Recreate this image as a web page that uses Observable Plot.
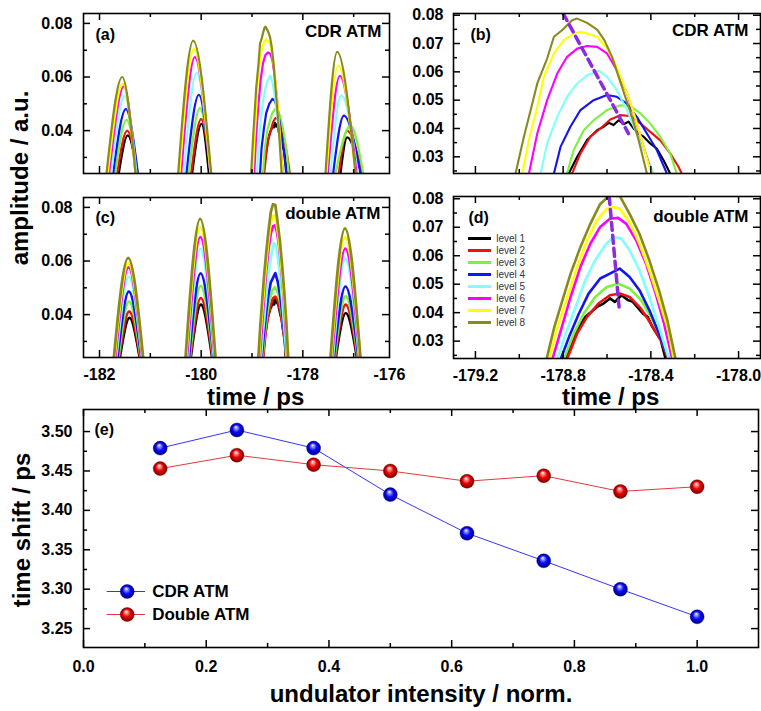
<!DOCTYPE html>
<html><head><meta charset="utf-8">
<script src="https://cdn.jsdelivr.net/npm/d3@7"></script>
<script src="https://cdn.jsdelivr.net/npm/@observablehq/plot@0.6"></script>
<style>
body{margin:0;background:#fff;}
#root{position:relative;width:761px;height:711px;overflow:hidden;background:#fff;}
</style></head><body><div id="root"></div>
<script>
// ---------------- data ----------------
const levels = ["level 1","level 2","level 3","level 4","level 5","level 6","level 7","level 8"];
const levelColors = ["#000000","#ee1111","#7cf23c","#1414ee","#80ffff","#ff00ff","#ffff00","#8a8a1c"];

// (b) CDR ATM, third pulse in detail: [time / ps, amplitude / a.u.]
const cdrL1 = [[-178.774,0.0241],[-178.736,0.0300],[-178.691,0.0359],[-178.645,0.0394],[-178.615,0.0406],[-178.592,0.0420],[-178.570,0.0412],[-178.547,0.0429],[-178.524,0.0415],[-178.502,0.0424],[-178.479,0.0400],[-178.456,0.0382],[-178.433,0.0371],[-178.403,0.0347],[-178.373,0.0329],[-178.342,0.0288],[-178.312,0.0241]];
const cdrL2 = [[-178.759,0.0241],[-178.721,0.0312],[-178.676,0.0371],[-178.630,0.0400],[-178.585,0.0432],[-178.539,0.0447],[-178.494,0.0444],[-178.448,0.0418],[-178.403,0.0388],[-178.358,0.0359],[-178.312,0.0312],[-178.274,0.0265],[-178.259,0.0241]];
const cdrL3 = [[-178.782,0.0241],[-178.752,0.0324],[-178.706,0.0394],[-178.661,0.0429],[-178.600,0.0465],[-178.539,0.0482],[-178.494,0.0479],[-178.448,0.0453],[-178.403,0.0418],[-178.358,0.0371],[-178.312,0.0312],[-178.282,0.0241]];
const cdrL4 = [[-178.842,0.0241],[-178.812,0.0335],[-178.767,0.0406],[-178.721,0.0465],[-178.661,0.0500],[-178.600,0.0518],[-178.555,0.0512],[-178.509,0.0488],[-178.464,0.0441],[-178.418,0.0382],[-178.373,0.0324],[-178.327,0.0241]];
const cdrL5 = [[-178.903,0.0241],[-178.873,0.0347],[-178.827,0.0441],[-178.782,0.0512],[-178.736,0.0559],[-178.691,0.0588],[-178.638,0.0604],[-178.600,0.0582],[-178.555,0.0535],[-178.509,0.0465],[-178.464,0.0382],[-178.418,0.0300],[-178.388,0.0241]];
const cdrL6 = [[-178.956,0.0241],[-178.918,0.0382],[-178.873,0.0500],[-178.827,0.0594],[-178.782,0.0653],[-178.736,0.0682],[-178.691,0.0691],[-178.645,0.0688],[-178.600,0.0665],[-178.555,0.0606],[-178.509,0.0524],[-178.479,0.0453],[-178.433,0.0335],[-178.395,0.0241]];
const cdrL7 = [[-178.986,0.0241],[-178.956,0.0359],[-178.918,0.0476],[-178.888,0.0582],[-178.842,0.0665],[-178.797,0.0712],[-178.752,0.0735],[-178.721,0.0741],[-178.691,0.0735],[-178.645,0.0724],[-178.600,0.0682],[-178.562,0.0629],[-178.532,0.0571],[-178.497,0.0500],[-178.464,0.0418],[-178.433,0.0335],[-178.411,0.0276],[-178.395,0.0241]];
const cdrL8 = [[-179.017,0.0241],[-178.979,0.0371],[-178.948,0.0465],[-178.918,0.0559],[-178.873,0.0647],[-178.842,0.0724],[-178.805,0.0747],[-178.759,0.0782],[-178.736,0.0788],[-178.691,0.0773],[-178.645,0.0749],[-178.612,0.0712],[-178.577,0.0653],[-178.547,0.0582],[-178.517,0.0512],[-178.486,0.0441],[-178.456,0.0359],[-178.433,0.0288],[-178.418,0.0241]];
const cdrShiftLine = [[-178.800,0.0806],[-178.502,0.0382]];

// (d) double ATM, third pulse in detail
const dblL1 = [[-178.788,0.0239],[-178.743,0.0327],[-178.699,0.0385],[-178.646,0.0420],[-178.616,0.0432],[-178.587,0.0450],[-178.564,0.0438],[-178.534,0.0461],[-178.504,0.0444],[-178.482,0.0438],[-178.437,0.0397],[-178.415,0.0385],[-178.393,0.0350],[-178.355,0.0304],[-178.333,0.0239]];
const dblL2 = [[-178.781,0.0239],[-178.736,0.0327],[-178.691,0.0385],[-178.639,0.0432],[-178.587,0.0461],[-178.542,0.0467],[-178.497,0.0455],[-178.445,0.0414],[-178.400,0.0362],[-178.355,0.0304],[-178.321,0.0239]];
const dblL3 = [[-178.796,0.0239],[-178.751,0.0327],[-178.706,0.0397],[-178.654,0.0455],[-178.601,0.0490],[-178.549,0.0502],[-178.497,0.0485],[-178.445,0.0444],[-178.400,0.0385],[-178.355,0.0315],[-178.318,0.0239]];
const dblL4 = [[-178.810,0.0239],[-178.773,0.0315],[-178.728,0.0397],[-178.684,0.0467],[-178.631,0.0520],[-178.587,0.0537],[-178.542,0.0555],[-178.497,0.0525],[-178.452,0.0479],[-178.407,0.0409],[-178.363,0.0327],[-178.318,0.0239]];
const dblL5 = [[-178.825,0.0239],[-178.788,0.0327],[-178.743,0.0420],[-178.699,0.0514],[-178.654,0.0584],[-178.609,0.0636],[-178.572,0.0666],[-178.534,0.0660],[-178.497,0.0619],[-178.452,0.0549],[-178.407,0.0455],[-178.363,0.0350],[-178.318,0.0239]];
const dblL6 = [[-178.848,0.0239],[-178.810,0.0339],[-178.766,0.0455],[-178.721,0.0561],[-178.676,0.0642],[-178.631,0.0701],[-178.587,0.0730],[-178.549,0.0733],[-178.512,0.0712],[-178.467,0.0654],[-178.422,0.0572],[-178.378,0.0467],[-178.340,0.0362],[-178.303,0.0239]];
const dblL7 = [[-178.863,0.0239],[-178.825,0.0350],[-178.781,0.0455],[-178.736,0.0561],[-178.691,0.0654],[-178.646,0.0724],[-178.601,0.0765],[-178.572,0.0771],[-178.542,0.0765],[-178.497,0.0718],[-178.452,0.0642],[-178.407,0.0549],[-178.363,0.0444],[-178.325,0.0350],[-178.296,0.0239]];
const dblL8 = [[-178.875,0.0239],[-178.840,0.0350],[-178.803,0.0444],[-178.766,0.0537],[-178.721,0.0631],[-178.676,0.0712],[-178.631,0.0782],[-178.587,0.0812],[-178.542,0.0810],[-178.497,0.0747],[-178.452,0.0677],[-178.407,0.0584],[-178.363,0.0479],[-178.325,0.0374],[-178.288,0.0239]];
const dblShiftLine = [[-178.590,0.0808],[-178.545,0.0420]];

// (a) CDR ATM, pulses 1, 2 and 4 (pulse 3 = panel b): per level 1..8
const cdrPeakTime = [
  [-181.443,-181.456,-181.469,-181.482,-181.508,-181.521,-181.541,-181.554],
  [-179.993,-180.000,-180.026,-180.046,-180.092,-180.125,-180.144,-180.157],
  [-177.128,-177.128,-177.062,-177.193,-177.246,-177.272,-177.305,-177.325]];
const cdrPeakAmp = [
  [0.0382,0.0400,0.0440,0.0480,0.0530,0.0565,0.0575,0.0600],
  [0.0425,0.0443,0.0484,0.0533,0.0616,0.0674,0.0705,0.0736],
  [0.0375,0.0400,0.0419,0.0456,0.0532,0.0604,0.0643,0.0694]];
const cdrFootLeft = [
  [-181.620,-181.652,-181.692,-181.731,-181.770,-181.810,-181.836,-181.862],
  [-180.177,-180.197,-180.243,-180.289,-180.341,-180.393,-180.426,-180.452],
  [-177.259,-177.292,-177.357,-177.403,-177.456,-177.508,-177.534,-177.554]];
const cdrFootRight = [
  [-181.259,-181.246,-181.246,-181.246,-181.272,-181.292,-181.292,-181.292],
  [-179.849,-179.816,-179.803,-179.816,-179.816,-179.816,-179.816,-179.803],
  [-176.852,-176.833,-176.813,-176.866,-176.918,-176.944,-176.964,-176.964]];

// (c) double ATM, pulses 1, 2 and 4 (pulse 3 = panel d)
const dblPeakTime = [
  [-181.410,-181.416,-181.420,-181.423,-181.426,-181.430,-181.433,-181.436],
  [-180.005,-180.008,-180.010,-180.012,-180.014,-180.016,-180.018,-180.020],
  [-177.155,-177.157,-177.159,-177.161,-177.163,-177.165,-177.167,-177.170]];
const dblPeakAmp = [
  [0.0388,0.0412,0.0449,0.0486,0.0542,0.0576,0.0591,0.0612],
  [0.0437,0.0462,0.0507,0.0554,0.0646,0.0689,0.0726,0.0757],
  [0.0406,0.0437,0.0468,0.0505,0.0609,0.0646,0.0689,0.0722]];
const dblFootLeft = [
  [-181.600,-181.612,-181.628,-181.645,-181.668,-181.688,-181.705,-181.718],
  [-180.205,-180.212,-180.225,-180.240,-180.258,-180.280,-180.296,-180.308],
  [-177.352,-177.362,-177.375,-177.390,-177.408,-177.428,-177.444,-177.456]];
const dblFootRight = [
  [-181.210,-181.200,-181.190,-181.178,-181.166,-181.156,-181.148,-181.141],
  [-179.785,-179.775,-179.765,-179.755,-179.748,-179.733,-179.725,-179.718],
  [-176.935,-176.925,-176.915,-176.905,-176.895,-176.881,-176.873,-176.866]];

// (e) time shift vs undulator intensity
const intensity = [0.125,0.25,0.375,0.5,0.625,0.75,0.875,1.0];
const cdrShift = [3.479,3.502,3.479,3.420,3.371,3.336,3.300,3.265];
const doubleShift = [3.453,3.470,3.458,3.450,3.437,3.444,3.424,3.430];
const seriesNames = ["CDR ATM","Double ATM"];

// axis ticks
const xMajorAC = [-182,-180,-178], xMinorAC = [-181,-179,-177];
const yMajorAC = [0.04,0.06,0.08], yMinorAC = [0.03,0.05,0.07];
const xMajorBD = [-179.2,-178.8,-178.4,-178.0], xMinorBD = [-179.0,-178.6,-178.2];
const yMajorBD = [0.03,0.04,0.05,0.06,0.07,0.08], yMinorBD = [0.025,0.035,0.045,0.055,0.065,0.075];
const xMajorE = [0,0.2,0.4,0.6,0.8,1.0], xMinorE = [0.1,0.3,0.5,0.7,0.9];
const yMajorE = [3.25,3.30,3.35,3.40,3.45,3.50], yMinorE = [3.275,3.325,3.375,3.425,3.475];

const xDomainAC = [-182.315,-176.295], yDomainA = [0.024,0.0837], yDomainC = [0.024,0.0837];
const xDomainBD = [-179.30,-177.90], yDomainB = [0.0241,0.0806], yDomainD = [0.0239,0.0808];
const xDomainE = [0,1.1], yDomainE = [3.226,3.528];
const footAmp = 0.024;

// ---------------- helpers ----------------
const FONT = '"Liberation Sans", Arial, Helvetica, sans-serif';
const root = document.getElementById("root");
const colorScale = {domain: levels, range: levelColors};

function zoomRows(sets, tag) {
  const rows = [];
  sets.forEach((pts, li) => pts.forEach(([t, a]) => rows.push({level: levels[li], key: levels[li] + tag, t, a})));
  return rows;
}
function archRows(times, amps, lefts, rights) {
  const rows = [];
  for (let li = 0; li < levels.length; li++) for (let p = 0; p < times.length; p++) {
    const key = levels[li] + " pulse " + p;
    rows.push({level: levels[li], key, t: lefts[p][li], a: footAmp});
    rows.push({level: levels[li], key, t: times[p][li], a: amps[p][li]});
    rows.push({level: levels[li], key, t: rights[p][li], a: footAmp});
  }
  return rows;
}
// inward ticks on all four sides (lengths in px converted through the scale), plus labels
function axes(o) {
  const kx = (o.xD[1] - o.xD[0]) / o.fw, ky = (o.yD[1] - o.yD[0]) / o.fh;
  const st = {stroke: "#000", strokeWidth: 1.5};
  const m = [];
  for (const [arr, len] of [[o.xMajor, 7], [o.xMinor, 4]]) {
    m.push(Plot.ruleX(arr, {x: d => d, y1: o.yD[0], y2: o.yD[0] + len * ky, ...st}));
    m.push(Plot.ruleX(arr, {x: d => d, y1: o.yD[1], y2: o.yD[1] - len * ky, ...st}));
  }
  for (const [arr, len] of [[o.yMajor, 7], [o.yMinor, 4]]) {
    m.push(Plot.ruleY(arr, {y: d => d, x1: o.xD[0], x2: o.xD[0] + len * kx, ...st}));
    m.push(Plot.ruleY(arr, {y: d => d, x1: o.xD[1], x2: o.xD[1] - len * kx, ...st}));
  }
  if (o.xLabels) m.push(Plot.axisX(o.xMajor, {anchor: "bottom", tickSize: 0, tickPadding: o.xPad, tickFormat: o.xFmt, label: null, fill: "#000"}));
  m.push(Plot.axisY(o.yMajor, {anchor: "left", tickSize: 0, tickPadding: o.yPad, tickFormat: o.yFmt, label: null, fill: "#000"}));
  m.push(Plot.frame({stroke: "#000", strokeWidth: 1.6}));
  return m;
}
function place(svg, left, top) {
  svg.style.position = "absolute";
  svg.style.left = left + "px";
  svg.style.top = top + "px";
  root.appendChild(svg);
}
const baseStyle = {fontFamily: FONT, fontSize: "16px", fontWeight: "bold", background: "transparent", overflow: "visible", color: "#000"};
const f2 = d => d.toFixed(2), f1 = d => d.toFixed(1), f0 = d => String(d);

function labelMarks(tag, name, tagDx, tagDy, nameDx, nameDy) {
  return [
    Plot.text([tag], {text: d => d, frameAnchor: "top-left", textAnchor: "start", lineAnchor: "bottom", dx: tagDx, dy: tagDy, fontSize: 16, fontWeight: "bold", fill: "#000"}),
    Plot.text([name], {text: d => d, frameAnchor: "top-right", textAnchor: "end", lineAnchor: "bottom", dx: nameDx, dy: nameDy, fontSize: 17, fontWeight: "bold", fill: "#000"})
  ];
}
function pulsePanel({archData, zoomData, yDomain, width, height, margins, strokeWidth, xLabels, extra}) {
  const fw = width - margins.marginLeft - margins.marginRight, fh = height - margins.marginTop - margins.marginBottom;
  return Plot.plot({
    width, height, ...margins, style: baseStyle,
    x: {domain: xDomainAC, label: null, ...(xLabels ? {} : {axis: null})},
    y: {domain: yDomain, label: null},
    color: colorScale,
    marks: [
      Plot.line(archData, {x: "t", y: "a", z: "key", stroke: "level", strokeWidth, curve: "monotone-x", clip: true}),
      Plot.line(zoomData, {x: "t", y: "a", z: "key", stroke: "level", strokeWidth, clip: true}),
      ...axes({xD: xDomainAC, yD: yDomain, fw, fh, xMajor: xMajorAC, xMinor: xMinorAC, yMajor: yMajorAC, yMinor: yMinorAC, xFmt: f0, yFmt: f2, xLabels, xPad: 11, yPad: 11}),
      ...extra
    ]
  });
}
function zoomPanel({zoomData, shiftLine, yDomain, width, height, margins, strokeWidth, xLabels, extra}) {
  const fw = width - margins.marginLeft - margins.marginRight, fh = height - margins.marginTop - margins.marginBottom;
  return Plot.plot({
    width, height, ...margins, style: baseStyle,
    x: {domain: xDomainBD, label: null, ...(xLabels ? {} : {axis: null})},
    y: {domain: yDomain, label: null},
    color: colorScale,
    marks: [
      Plot.line(zoomData, {x: "t", y: "a", z: "key", stroke: "level", strokeWidth, clip: true}),
      Plot.line(shiftLine, {x: d => d[0], y: d => d[1], stroke: "#8a2be2", strokeWidth: 3.5, strokeDasharray: "8,5", clip: true}),
      ...axes({xD: xDomainBD, yD: yDomain, fw, fh, xMajor: xMajorBD, xMinor: xMinorBD, yMajor: yMajorBD, yMinor: yMinorBD, xFmt: f1, yFmt: f2, xLabels, xPad: 11, yPad: 10}),
      ...extra
    ]
  });
}

// gradient defs for the sphere markers
root.insertAdjacentHTML("beforeend", `<svg width="0" height="0" style="position:absolute;left:0;top:0"><defs>
<radialGradient id="ballBlue" cx="50%" cy="50%" r="50%" fx="42%" fy="28%">
<stop offset="0%" stop-color="#ffffff"/><stop offset="22%" stop-color="#8f8fff"/><stop offset="55%" stop-color="#0808ff"/><stop offset="100%" stop-color="#000080"/></radialGradient>
<radialGradient id="ballRed" cx="50%" cy="50%" r="50%" fx="42%" fy="28%">
<stop offset="0%" stop-color="#ffffff"/><stop offset="22%" stop-color="#ff9090"/><stop offset="55%" stop-color="#e80000"/><stop offset="100%" stop-color="#7a0000"/></radialGradient>
</defs></svg>`);

const cdrZoom = zoomRows([cdrL1,cdrL2,cdrL3,cdrL4,cdrL5,cdrL6,cdrL7,cdrL8], " pulse 3");
const dblZoom = zoomRows([dblL1,dblL2,dblL3,dblL4,dblL5,dblL6,dblL7,dblL8], " pulse 3");

// (a)
place(pulsePanel({
  archData: archRows(cdrPeakTime, cdrPeakAmp, cdrFootLeft, cdrFootRight), zoomData: cdrZoom,
  yDomain: yDomainA, width: 400, height: 190,
  margins: {marginLeft: 83, marginRight: 11, marginTop: 13, marginBottom: 17},
  strokeWidth: 2.2, xLabels: false,
  extra: labelMarks("(a)", "CDR ATM", 12, 26, -8, 23)
}), 0, 0);

// (b)
place(zoomPanel({
  zoomData: cdrZoom, shiftLine: cdrShiftLine, yDomain: yDomainB, width: 361, height: 190,
  margins: {marginLeft: 53, marginRight: 1, marginTop: 13, marginBottom: 17},
  strokeWidth: 2.1, xLabels: false,
  extra: labelMarks("(b)", "CDR ATM", 17, 26, -12, 22)
}), 400, 0);

// (c)
place(pulsePanel({
  archData: archRows(dblPeakTime, dblPeakAmp, dblFootLeft, dblFootRight), zoomData: dblZoom,
  yDomain: yDomainC, width: 400, height: 225,
  margins: {marginLeft: 83, marginRight: 11, marginTop: 12, marginBottom: 53},
  strokeWidth: 2.7, xLabels: true,
  extra: [...labelMarks("(c)", "double ATM", 12, 25, -9, 21),
    Plot.text(["-176"], {text: d => d, x: xDomainAC[1], frameAnchor: "bottom", lineAnchor: "top", dy: 11, fill: "#000"})]
}), 0, 185);

// (d)
place(zoomPanel({
  zoomData: dblZoom, shiftLine: dblShiftLine, yDomain: yDomainD, width: 361, height: 225,
  margins: {marginLeft: 53, marginRight: 1, marginTop: 11, marginBottom: 52},
  strokeWidth: 2.6, xLabels: true,
  extra: labelMarks("(d)", "double ATM", 15, 26, -12, 25)
}), 400, 185);

// (d) legend
place(Plot.plot({
  width: 100, height: 100, margin: 0, style: {...baseStyle, fontWeight: "normal", fontSize: "10px"},
  x: {domain: [0, 100], range: [0, 100], axis: null},
  y: {type: "point", domain: levels, range: [11.7, 95.7], padding: 0, axis: null},
  color: colorScale,
  marks: [
    Plot.ruleY(levels, {y: d => d, x1: 6, x2: 29, stroke: d => d, strokeWidth: 3}),
    Plot.text(levels, {y: d => d, x: 33.7, text: d => d, textAnchor: "start", fill: "#333", fontSize: 10})
  ]
}), 462, 226);

// (e)
const shiftRows = intensity.flatMap((u, i) => [
  {u, s: cdrShift[i], series: seriesNames[0]},
  {u, s: doubleShift[i], series: seriesNames[1]}
]);
const seriesScale = {domain: seriesNames, range: ["#3535ff", "#e03a3a"]};
place(Plot.plot({
  width: 761, height: 311, marginLeft: 83, marginRight: 3, marginTop: 9, marginBottom: 64,
  style: baseStyle,
  x: {domain: xDomainE, label: null},
  y: {domain: yDomainE, label: null},
  color: seriesScale,
  marks: [
    Plot.line(shiftRows, {x: "u", y: "s", z: "series", stroke: "series", strokeWidth: 1}),
    Plot.dot(shiftRows.filter(d => d.series === seriesNames[1]), {x: "u", y: "s", r: 7, fill: "url(#ballRed)", stroke: "#700000", strokeWidth: 0.4}),
    Plot.dot(shiftRows.filter(d => d.series === seriesNames[0]), {x: "u", y: "s", r: 7, fill: "url(#ballBlue)", stroke: "#000070", strokeWidth: 0.4}),
    ...axes({xD: xDomainE, yD: yDomainE, fw: 675, fh: 238, xMajor: xMajorE, xMinor: xMinorE, yMajor: yMajorE, yMinor: yMinorE, xFmt: f1, yFmt: f2, xLabels: true, xPad: 13, yPad: 11}),
    Plot.text(["(e)"], {text: d => d, frameAnchor: "top-left", textAnchor: "start", lineAnchor: "bottom", dx: 11, dy: 25, fontSize: 16, fontWeight: "bold", fill: "#000"})
  ]
}), 0, 400);

// (e) legend
place(Plot.plot({
  width: 150, height: 45, margin: 0, style: {...baseStyle, fontSize: "17px"},
  x: {domain: [0, 150], range: [0, 150], axis: null},
  y: {type: "point", domain: seriesNames, range: [11, 34], padding: 0, axis: null},
  color: seriesScale,
  marks: [
    Plot.ruleY(seriesNames, {y: d => d, x1: 6.7, x2: 45, stroke: d => d, strokeWidth: 1}),
    Plot.dot(seriesNames, {y: d => d, x: 26.7, r: 7, fill: d => d === seriesNames[0] ? "url(#ballBlue)" : "url(#ballRed)", stroke: d => d === seriesNames[0] ? "#000070" : "#700000", strokeWidth: 0.4}),
    Plot.text(seriesNames, {y: d => d, x: 51.7, text: d => d, textAnchor: "start", fill: "#000", fontSize: 17, fontWeight: "bold"})
  ]
}), 100, 580);

// axis titles
const titles = d3.create("svg").attr("width", 761).attr("height", 711)
  .style("position", "absolute").style("left", "0px").style("top", "0px").style("pointer-events", "none")
  .attr("font-family", FONT).attr("font-weight", "bold").attr("font-size", 24).attr("fill", "#000");
titles.append("text").attr("transform", "translate(28,178) rotate(-90)").attr("text-anchor", "middle").text("amplitude / a.u.");
titles.append("text").attr("x", 207).attr("y", 405).attr("text-anchor", "start").text("time / ps");
titles.append("text").attr("x", 562).attr("y", 405).attr("text-anchor", "start").text("time / ps");
titles.append("text").attr("transform", "translate(30,530) rotate(-90)").attr("text-anchor", "middle").text("time shift / ps");
titles.append("text").attr("x", 421).attr("y", 702).attr("text-anchor", "middle").text("undulator intensity / norm.");
root.appendChild(titles.node());
</script></body></html>
